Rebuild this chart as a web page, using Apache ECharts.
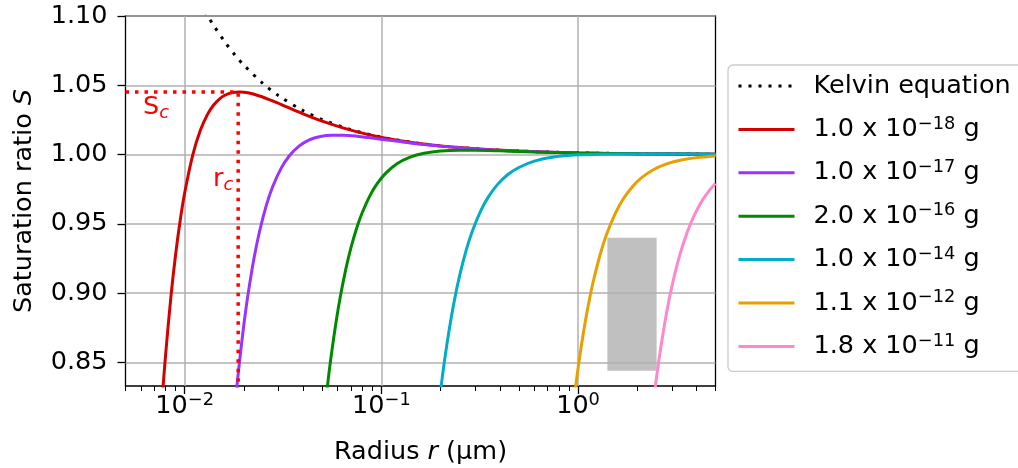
<!DOCTYPE html>
<html>
<head>
<meta charset="utf-8">
<title>Köhler curves</title>
<script src="https://cdn.jsdelivr.net/npm/echarts@6.0.0/dist/echarts.min.js"></script>
<style>
  html, body { margin: 0; padding: 0; background: #fff; }
  #chart { width: 1018px; height: 468px; }
</style>
</head>
<body>
<div id="chart"></div>
<script>
// Radius r in µm, saturation ratio S (dimensionless)
const kelvinR = [0.012, 0.013, 0.014, 0.016, 0.018, 0.02, 0.025, 0.03, 0.04, 0.05, 0.07, 0.1, 0.15, 0.2, 0.3, 0.5, 1, 2, 5];
const kelvinS = [1.1098, 1.1009, 1.0934, 1.0813, 1.0719, 1.0645, 1.0513, 1.0425, 1.0317, 1.0253, 1.0180, 1.0126, 1.0084, 1.0063, 1.0042, 1.0025, 1.0013, 1.0006, 1.0003];

const redR = [0.0075, 0.0078, 0.008, 0.0085, 0.009, 0.0095, 0.01, 0.011, 0.012, 0.013, 0.014, 0.015, 0.016, 0.0175, 0.019, 0.021, 0.024, 0.028, 0.033, 0.04, 0.05, 0.065, 0.085, 0.12, 0.18, 0.3, 0.5, 1, 2, 5];
const redS = [0.8027, 0.8363, 0.8559, 0.8968, 0.9284, 0.9531, 0.9725, 1.0000, 1.0173, 1.0285, 1.0356, 1.0401, 1.0428, 1.0448, 1.0452, 1.0446, 1.0423, 1.0387, 1.0344, 1.0294, 1.0241, 1.0189, 1.0146, 1.0104, 1.0069, 1.0042, 1.0025, 1.0012, 1.0006, 1.0003];

const purpleR = [0.018, 0.0185, 0.019, 0.02, 0.021, 0.0225, 0.024, 0.026, 0.028, 0.031, 0.034, 0.038, 0.043, 0.049, 0.056, 0.064, 0.075, 0.09, 0.11, 0.14, 0.2, 0.3, 0.5, 1, 2, 5];
const purpleS = [0.8177, 0.8351, 0.8507, 0.8775, 0.8993, 0.9250, 0.9443, 0.9633, 0.9768, 0.9904, 0.9990, 1.0059, 1.0106, 1.0131, 1.0140, 1.0140, 1.0133, 1.0119, 1.0103, 1.0084, 1.0061, 1.0041, 1.0025, 1.0012, 1.0006, 1.0002];

const greenR = [0.052, 0.054, 0.056, 0.059, 0.062, 0.066, 0.07, 0.075, 0.08, 0.087, 0.095, 0.105, 0.12, 0.14, 0.165, 0.2, 0.25, 0.3, 0.4, 0.6, 1, 2, 5];
const greenS = [0.8208, 0.8409, 0.8583, 0.8803, 0.8983, 0.9175, 0.9326, 0.9472, 0.9582, 0.9697, 0.9788, 0.9864, 0.9934, 0.9982, 1.0010, 1.0026, 1.0031, 1.0031, 1.0027, 1.0019, 1.0012, 1.0006, 1.0002];

const cyanR = [0.2, 0.205, 0.21, 0.22, 0.235, 0.25, 0.27, 0.29, 0.32, 0.35, 0.39, 0.44, 0.5, 0.6, 0.75, 1, 1.3, 1.8, 2.5, 5];
const cyanS = [0.8295, 0.8415, 0.8524, 0.8715, 0.8946, 0.9126, 0.9310, 0.9447, 0.9594, 0.9695, 0.9785, 0.9856, 0.9907, 0.9953, 0.9982, 0.9998, 1.0003, 1.0004, 1.0004, 1.0002];

const orangeR = [0.97, 0.99, 1.02, 1.06, 1.1, 1.15, 1.2, 1.3, 1.4, 1.55, 1.7, 1.9, 2.1, 2.4, 2.8, 3.3, 4, 5];
const orangeS = [0.8314, 0.8411, 0.8543, 0.8697, 0.8831, 0.8974, 0.9095, 0.9286, 0.9428, 0.9578, 0.9681, 0.9772, 0.9832, 0.9889, 0.9931, 0.9959, 0.9978, 0.9990];

const pinkR = [2.45, 2.5, 2.6, 2.75, 2.9, 3.1, 3.3, 3.6, 3.9, 4.3, 4.7, 5];
const pinkS = [0.8282, 0.8379, 0.8553, 0.8771, 0.8948, 0.9135, 0.9281, 0.9444, 0.9562, 0.9673, 0.9749, 0.9792];

// solute masses shown in the legend: mantissa and power of ten
const massMantissa = ['1.0', '1.0', '2.0', '1.0', '1.1', '1.8'];
const massExponent = ['−18', '−17', '−16', '−14', '−12', '−11'];

// critical point of the smallest droplet (guide lines)
const critR = [0.005, 0.0187, 0.0187];
const critS = [1.0452, 1.0452, 0.80];

// shaded block: radius range and saturation range
const boxR = [1.41, 2.51];
const boxS = [0.844, 0.940];

// axis ticks
const xMajorTicks = [0.01, 0.1, 1];
const xMinorTicks = [0.005, 0.006, 0.007, 0.008, 0.009, 0.02, 0.03, 0.04, 0.05, 0.06, 0.07, 0.08, 0.09,
                     0.2, 0.3, 0.4, 0.5, 0.6, 0.7, 0.8, 0.9, 2, 3, 4, 5];
const yTicks = [0.85, 0.90, 0.95, 1.00, 1.05, 1.10];

const FONT = 'DejaVu Sans';
const FS = 25.5;
const SUP = 17.8;
const colors = ['#d40000', '#9933ff', '#008a00', '#00acc8', '#e8a000', '#ff88cc'];
const curveR = [redR, purpleR, greenR, cyanR, orangeR, pinkR];
const curveS = [redS, purpleS, greenS, cyanS, orangeS, pinkS];

const zip = (xs, ys) => xs.map((x, i) => [x, ys[i]]);
const massNames = massMantissa.map((m, i) => m + ' x 10' + massExponent[i] + ' g');

const baseRich = {
  t: { fontFamily: FONT, fontSize: FS, lineHeight: 30, color: '#000' },
  sup: { fontFamily: FONT, fontSize: SUP, lineHeight: 18, padding: [0, 0, 11, 0], color: '#000' },
  i: { fontFamily: FONT, fontSize: FS, lineHeight: 30, fontStyle: 'italic', color: '#000' }
};

const series = [];
series.push({
  type: 'custom',
  name: 'block',
  z: -1,
  silent: true,
  clip: true,
  renderItem: (params, api) => {
    const p0 = api.coord([api.value(0), api.value(3)]);
    const p1 = api.coord([api.value(1), api.value(2)]);
    return { type: 'rect', shape: { x: p0[0], y: p0[1], width: p1[0] - p0[0], height: p1[1] - p0[1] },
             style: { fill: '#c0c0c0' } };
  },
  data: [[boxR[0], boxR[1], boxS[0], boxS[1]]]
});
series.push({
  type: 'line', name: 'Kelvin equation', data: zip(kelvinR, kelvinS),
  symbol: 'none', smooth: 0.3, clip: true,
  lineStyle: { color: '#000', width: 3, type: [3, 7], cap: 'butt' },
  itemStyle: { color: '#000' }
});
curveR.forEach((rs, k) => {
  series.push({
    type: 'line', name: massNames[k], data: zip(rs, curveS[k]),
    symbol: 'none', smooth: 0.3, clip: true,
    lineStyle: { color: colors[k], width: 3 },
    itemStyle: { color: colors[k] }
  });
});
series.push({
  type: 'line', name: 'critical', data: zip(critR, critS),
  symbol: 'none', clip: true, silent: true,
  lineStyle: { color: '#ff0000', width: 3.5, type: [3.5, 6], cap: 'butt' }
});

const chart = echarts.init(document.getElementById('chart'), null, { renderer: 'canvas' });
chart.setOption({
  animation: false,
  textStyle: { fontFamily: FONT },
  grid: { left: 125.5, right: 302.5, top: 16, bottom: 82, show: true,
          outerBoundsMode: 'none', containLabel: false,
          borderColor: '#000', borderWidth: 1.3, backgroundColor: 'rgba(0,0,0,0)' },
  xAxis: [{
    type: 'log', logBase: 10, min: 0.005, max: 5,
    axisLine: { show: false },
    axisTick: { show: true, customValues: xMajorTicks, length: 8, lineStyle: { color: '#000', width: 1.3 } },
    axisLabel: {
      customValues: xMajorTicks, margin: 5, color: '#000',
      formatter: v => {
        const e = Math.round(Math.log10(v));
        return '{t|10}{sup|' + (e < 0 ? '−' + (-e) : String(e)) + '}';
      },
      rich: baseRich
    },
    splitLine: { show: true, lineStyle: { color: '#b0b0b0', width: 1.5 } },
    name: 'Radius {i|r} (µm)', nameLocation: 'middle', nameGap: 51,
    nameTextStyle: { fontFamily: FONT, fontSize: FS, lineHeight: 30, color: '#000', rich: baseRich }
  }, {
    type: 'log', logBase: 10, min: 0.005, max: 5, gridIndex: 0, position: 'bottom',
    axisLine: { show: false }, axisLabel: { show: false }, splitLine: { show: false },
    axisTick: { show: true, customValues: xMinorTicks, length: 5, lineStyle: { color: '#000', width: 1 } }
  }],
  yAxis: {
    type: 'value', min: 0.833, max: 1.10,
    axisLine: { show: false },
    axisTick: { show: true, customValues: yTicks, length: 8, lineStyle: { color: '#000', width: 1.3 } },
    axisLabel: { customValues: yTicks, formatter: v => v.toFixed(2), fontFamily: FONT, fontSize: FS, color: '#000', margin: 18 },
    splitLine: { show: true, lineStyle: { color: '#b0b0b0', width: 1.5 } },
    name: 'Saturation ratio {i|S}', nameLocation: 'middle', nameGap: 84.5, nameRotate: 90,
    nameTextStyle: { fontFamily: FONT, fontSize: FS, lineHeight: 30, color: '#000', rich: baseRich }
  },
  legend: {
    data: ['Kelvin equation'].concat(massNames),
    orient: 'vertical', left: 728, top: 65,
    itemWidth: 56, itemHeight: 14, itemGap: 13.4,
    padding: [6, 14, 10, 9],
    backgroundColor: 'rgba(255,255,255,0.8)', borderColor: '#cccccc', borderWidth: 1.3, borderRadius: 5,
    lineStyle: { width: 'inherit' },
    itemStyle: { opacity: 0 },
    selectedMode: false,
    textStyle: { fontFamily: FONT, fontSize: FS, lineHeight: 30, color: '#000', padding: [0, 0, 0, 14], rich: baseRich },
    formatter: name => {
      const k = massNames.indexOf(name);
      if (k < 0) return '{t|' + name + '}';
      return '{t|' + massMantissa[k] + ' x 10}{sup|' + massExponent[k] + '}{t| g}';
    }
  },
  graphic: [{
    type: 'text', x: 143, y: 107, silent: true,
    style: {
      text: '{a|S}{b|c}', align: 'left', verticalAlign: 'middle',
      rich: {
        a: { fontFamily: FONT, fontSize: FS, lineHeight: 30, fill: '#ff0000' },
        b: { fontFamily: FONT, fontSize: SUP, lineHeight: 18, fontStyle: 'italic', padding: [13, 0, 0, 0], fill: '#ff0000' }
      }
    }
  }, {
    type: 'text', x: 213, y: 179, silent: true,
    style: {
      text: '{a|r}{b|c}', align: 'left', verticalAlign: 'middle',
      rich: {
        a: { fontFamily: FONT, fontSize: FS, lineHeight: 30, fill: '#ff0000' },
        b: { fontFamily: FONT, fontSize: SUP, lineHeight: 18, fontStyle: 'italic', padding: [13, 0, 0, 0], fill: '#ff0000' }
      }
    }
  }],
  series: series
});
</script>
</body>
</html>
